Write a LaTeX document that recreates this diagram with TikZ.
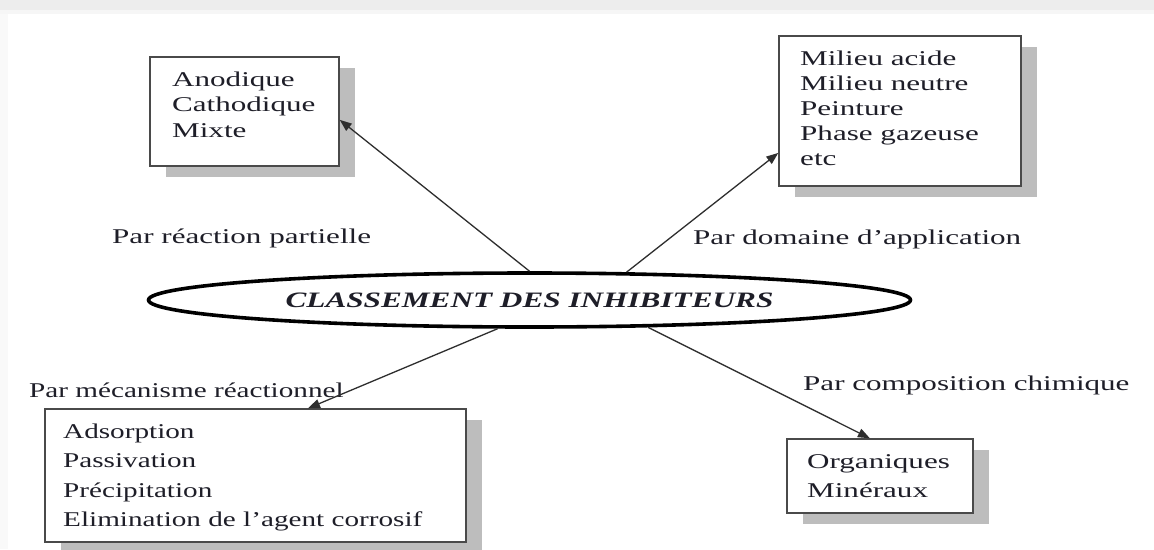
\documentclass[tikz,border=0pt]{standalone}
\usepackage{fontspec}
\setmainfont{Liberation Serif}[FakeStretch=1.42]
\newfontfamily\wideserif{Liberation Serif}[FakeStretch=1.48]
\newfontfamily\narrowserif{Liberation Serif}[FakeStretch=1.39]
\usetikzlibrary{shapes.geometric,arrows.meta,shadows}
\definecolor{ink}{HTML}{1E1E28}
\definecolor{boxline}{HTML}{4A4A4A}
\definecolor{shade}{HTML}{BDBDBD}
\definecolor{arrowline}{HTML}{2E2E2E}
\begin{document}
\begin{tikzpicture}[x=1pt,y=-1pt,
  catbox/.style={draw=boxline, line width=1.4pt, fill=white, inner sep=0pt,
    drop shadow={shadow xshift=16pt, shadow yshift=-11pt, fill=shade, opacity=1}},
  itemtext/.style={anchor=base west, inner sep=0pt, text=ink,
    font=\wideserif\fontsize{21}{25}\selectfont},
  narrowtext/.style={itemtext, font=\narrowserif\fontsize{21}{25}\selectfont},
  branchlabel/.style={itemtext},
  centre/.style={ellipse, draw=black, line width=3.6pt, fill=white, inner sep=0pt,
    minimum width=762pt, minimum height=54pt, text=ink,
    font=\fontsize{22}{26}\selectfont\bfseries\itshape},
  branch/.style={draw=arrowline, line width=1.3pt, -{Triangle[length=12pt,width=9pt]}}
]
\useasboundingbox (0,0) rectangle (1154,549);
% page background with the faint grey band along the top
\fill[white] (0,0) rectangle (1154,549);
\fill[gray!14] (0,0) rectangle (1154,10);
\fill[gray!7] (0,10) rectangle (1154,14);
\fill[gray!5] (0,14) rectangle (8,549);

% category boxes
\node[catbox, minimum width=189pt, minimum height=109pt] (partielle) at (244.5,111.5) {};
\node[catbox, minimum width=242pt, minimum height=150pt] (domaine) at (900,111) {};
\node[catbox, minimum width=421pt, minimum height=133pt] (mecanisme) at (255.5,475.5) {};
\node[catbox, minimum width=186pt, minimum height=74pt] (composition) at (880,476) {};

% box contents
\foreach \t [count=\i] in {Anodique,Cathodique,Mixte}
  \node[itemtext] (partielle-\i) at (172,{86+25.5*(\i-1)}) {\t};
\foreach \t [count=\i] in {Milieu acide,Milieu neutre,Peinture,Phase gazeuse,etc}
  \node[itemtext] (domaine-\i) at (800,{65+25*(\i-1)}) {\t};
\foreach \t [count=\i] in {Adsorption,Passivation,Précipitation,Elimination de l’agent corrosif}
  \node[narrowtext] (mecanisme-\i) at (63,{438+29.5*(\i-1)}) {\t};
\foreach \t [count=\i] in {Organiques,Minéraux}
  \node[itemtext] (composition-\i) at (807,{468+29*(\i-1)}) {\t};

% central ellipse
\node[centre] (classement) at (529.5,300) {CLASSEMENT DES INHIBITEURS};

% branch labels
\node[branchlabel] (lblpartielle) at (112,243) {Par réaction partielle};
\node[branchlabel] (lbldomaine) at (693,244) {Par domaine d’application};
\node[narrowtext] (lblmecanisme) at (29,397) {Par mécanisme réactionnel};
\node[branchlabel] (lblcomposition) at (803,390) {Par composition chimique};

% arrows from the ellipse to each box
\draw[branch] (classement.90) -- (partielle.-5);
\draw[branch] (classement.16) -- (domaine.199);
\draw[branch] (classement.222) -- (mecanisme.52);
\draw[branch] (classement.347) -- (composition.105);
\end{tikzpicture}
\end{document}
